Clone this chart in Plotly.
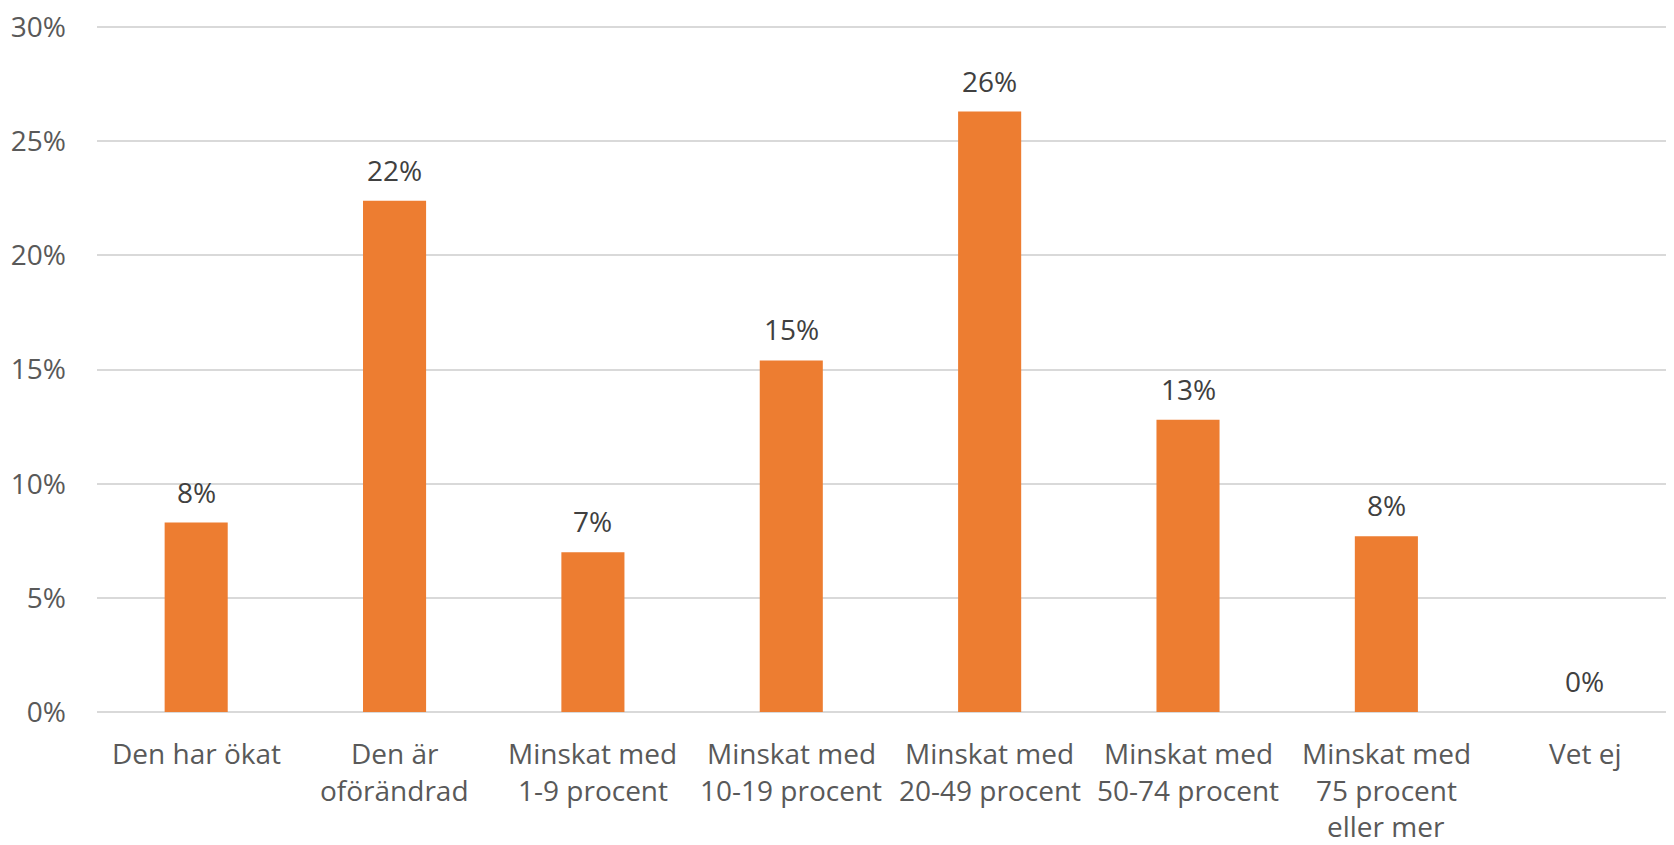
import plotly.graph_objects as go

categories = [
    "Den har ökat",
    "Den är oförändrad",
    "Minskat med 1-9 procent",
    "Minskat med 10-19 procent",
    "Minskat med 20-49 procent",
    "Minskat med 50-74 procent",
    "Minskat med 75 procent eller mer",
    "Vet ej",
]
category_lines = [
    ["Den har ökat"],
    ["Den är", "oförändrad"],
    ["Minskat med", "1-9 procent"],
    ["Minskat med", "10-19 procent"],
    ["Minskat med", "20-49 procent"],
    ["Minskat med", "50-74 procent"],
    ["Minskat med", "75 procent", "eller mer"],
    ["Vet ej"],
]
values = [8.3, 22.4, 7.0, 15.4, 26.3, 12.8, 7.7, 0.0]
labels = ["8%", "22%", "7%", "15%", "26%", "13%", "8%", "0%"]
tick_vals = [0, 5, 10, 15, 20, 25, 30]
tick_text = ["0%", "5%", "10%", "15%", "20%", "25%", "30%"]

FONT = "Open Sans"
SIZE = 28
fig = go.Figure()
fig.add_trace(go.Bar(
    x=categories, y=values,
    marker=dict(color="#ED7D31", line=dict(width=0)),
    width=0.318,
    hoverinfo="skip",
))
for c, v, t in zip(categories, values, labels):
    fig.add_annotation(x=c, y=v, text=t, showarrow=False, yanchor="bottom",
                       yshift=10, font=dict(family=FONT, size=SIZE, color="#404040"))
for c, lines in zip(categories, category_lines):
    for i, line in enumerate(lines):
        fig.add_annotation(x=c, y=0, yref="paper", text=line, showarrow=False,
                           yanchor="middle", yshift=-(41 + 36.5 * i),
                           font=dict(family=FONT, size=SIZE, color="#595959"))

fig.update_layout(
    width=1666, height=837,
    margin=dict(l=89, r=0, t=18, b=133, autoexpand=False),
    paper_bgcolor="white", plot_bgcolor="white",
    showlegend=False,
    font=dict(family=FONT, size=SIZE, color="#595959"),
)
fig.update_xaxes(
    type="category",
    range=[-0.5, 7.45],
    showline=False, showgrid=False, ticks="",
    showticklabels=False,
    automargin=False,
)
fig.update_yaxes(
    range=[0, 30.05],
    tickvals=tick_vals, ticktext=tick_text,
    showgrid=True, gridcolor="#D9D9D9", gridwidth=1.5,
    zeroline=True, zerolinecolor="#D9D9D9", zerolinewidth=1.5,
    showline=False, ticks="",
    tickfont=dict(family=FONT, size=SIZE, color="#595959"),
    ticklabelstandoff=30,
    ticklabeloverflow="allow",
    automargin=False,
)
fig.write_html("out.html")
